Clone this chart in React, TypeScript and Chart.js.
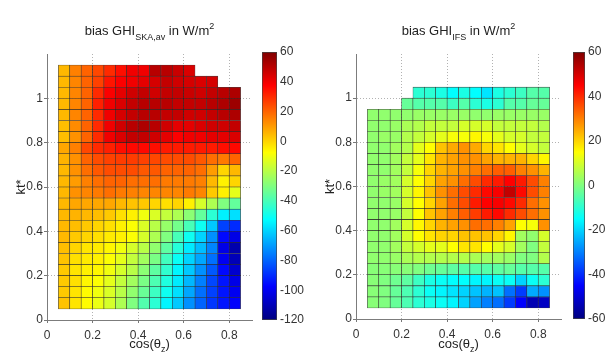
import React, { useEffect, useRef } from "react";
import { Chart, registerables } from "chart.js";

Chart.register(...registerables);

// ---- data ----
// cos(theta_z) bin edges (16 bins)
const cosBins = [0.05, 0.1, 0.15, 0.2, 0.25, 0.3, 0.35, 0.4, 0.45, 0.5, 0.55, 0.6, 0.65, 0.7, 0.75, 0.8, 0.85];
// kt* bin edges (22 bins)
const ktBins = [0.05, 0.1, 0.15, 0.2, 0.25, 0.3, 0.35, 0.4, 0.45, 0.5, 0.55, 0.6, 0.65, 0.7, 0.75, 0.8, 0.85, 0.9, 0.95, 1.0, 1.05, 1.1, 1.15];

const xTicks = [0, 0.2, 0.4, 0.6, 0.8];
const yTicks = [0, 0.2, 0.4, 0.6, 0.8, 1];

// bias GHI SKA,av in W/m2 — rows from kt 0.05 (bottom) upward, columns cos 0.05..0.85
const biasSKA: (number | null)[][] = [
  [3, -3, -7, -11, -15, -22, -30, -38, -45, -54, -62, -72, -80, -88, -94, -98],
  [2, -3, -7, -10, -14, -20, -27, -34, -42, -50, -58, -68, -78, -86, -94, -100],
  [2, -2, -6, -8, -12, -18, -24, -31, -39, -47, -56, -65, -75, -85, -94, -102],
  [2, -3, -5, -6, -10, -15, -20, -28, -36, -44, -54, -62, -72, -82, -96, -106],
  [3, -2, -4, -5, -8, -12, -18, -24, -31, -41, -51, -60, -68, -78, -100, -110],
  [4, 0, -3, -4, -6, -10, -15, -20, -27, -36, -46, -56, -64, -74, -102, -112],
  [5, 2, 0, -2, -4, -5, -8, -15, -22, -30, -40, -50, -60, -72, -96, -102],
  [5, 4, 2, 0, -2, -5, -8, -14, -20, -26, -32, -40, -50, -62, -86, -90],
  [5, 6, 5, 4, 2, -2, -5, -10, -14, -18, -22, -28, -35, -45, -55, -58],
  [5, 8, 8, 8, 8, 5, 3, 2, 0, -2, 0, -5, -15, -22, -30, -35],
  [5, 12, 14, 16, 18, 16, 15, 14, 14, 14, 14, 16, 14, 2, -5, -12],
  [5, 10, 15, 18, 20, 20, 18, 18, 18, 16, 16, 16, 15, 5, -5, 0],
  [5, 12, 18, 22, 24, 24, 24, 22, 22, 20, 20, 20, 18, 10, 0, 5],
  [6, 12, 20, 24, 26, 27, 27, 26, 25, 24, 24, 24, 22, 18, 16, 20],
  [8, 15, 25, 30, 32, 35, 36, 36, 35, 33, 33, 33, 33, 33, 35, 36],
  [4, 12, 20, 30, 40, 44, 48, 48, 46, 42, 38, 40, 40, 42, 42, 44],
  [4, 13, 20, 30, 40, 46, 50, 52, 50, 46, 42, 42, 44, 46, 46, 48],
  [5, 14, 20, 30, 40, 45, 48, 50, 50, 48, 48, 46, 46, 48, 50, 52],
  [5, 14, 20, 32, 40, 44, 48, 50, 50, 50, 48, 48, 48, 50, 52, 55],
  [5, 14, 20, 30, 38, 42, 46, 48, 46, 48, 48, 47, 46, 48, 50, 52],
  [5, 14, 20, 26, 34, 38, 40, 42, 45, 48, 46, 45, 44, 45, null, null],
  [5, 15, 20, 25, 30, 35, 40, 40, 50, 50, 47, 44, null, null, null, null],
];

// bias GHI IFS in W/m2 — rows from kt 0.05 (bottom) upward
const biasIFS: (number | null)[][] = [
  [1, 0, -3, -6, -10, -12, -14, -16, -20, -26, -30, -32, -38, -45, -54, -52],
  [1, 0, -3, -6, -10, -14, -16, -18, -20, -22, -24, -22, -32, -38, -25, -28],
  [1, 0, -2, -4, -8, -12, -14, -15, -15, -16, -16, -14, -14, -20, -14, -10],
  [1, 1, 1, 1, 0, -2, -3, -4, -5, -5, -5, -4, -3, -5, -5, -5],
  [2, 2, 3, 5, 6, 6, 6, 6, 6, 5, 4, 4, 3, 0, 0, 6],
  [2, 2, 4, 8, 10, 12, 12, 15, 18, 18, 15, 12, 10, 4, 0, 8],
  [2, 2, 4, 10, 15, 18, 20, 20, 22, 22, 22, 20, 16, 4, 2, 10],
  [2, 2, 4, 10, 16, 20, 24, 26, 28, 32, 32, 30, 26, 15, 14, 28],
  [2, 2, 3, 8, 15, 22, 26, 30, 34, 38, 42, 44, 40, 36, 32, 28],
  [2, 2, 3, 10, 15, 20, 26, 32, 36, 42, 45, 46, 44, 40, 32, 28],
  [2, 3, 4, 10, 16, 22, 28, 32, 36, 40, 44, 46, 52, 44, 36, 30],
  [2, 3, 4, 10, 15, 20, 26, 28, 32, 36, 40, 42, 45, 42, 36, 30],
  [2, 2, 4, 8, 14, 20, 24, 26, 28, 30, 32, 34, 34, 30, 28, 24],
  [2, 2, 4, 8, 12, 18, 24, 26, 28, 28, 26, 24, 24, 24, 20, 16],
  [2, 2, 4, 6, 12, 15, 22, 25, 28, 25, 20, 18, 15, 12, 10, 8],
  [2, 3, 3, 6, 8, 10, 12, 14, 14, 16, 14, 12, 10, 10, 8, 8],
  [2, 2, 3, 5, 6, 8, 8, 8, 10, 10, 10, 8, 8, 8, 8, 6],
  [2, 2, 2, 2, 3, 3, 3, 3, 3, 2, 2, 3, 3, 3, 3, 3],
  [null, null, null, -3, -5, -5, -5, -8, -5, -10, -12, -10, -5, -5, -3, -3],
  [null, null, null, null, -10, -10, -12, -15, -12, -15, -18, -12, -10, -8, -5, -5],
];

const rangeSKA = [-120, 60];
const rangeIFS = [-60, 60];
const cbTicksSKA = [-120, -100, -80, -60, -40, -20, 0, 20, 40, 60];
const cbTicksIFS = [-60, -40, -20, 0, 20, 40, 60];

// ---- helpers ----
const TICK_FONT = { family: "'Liberation Sans Narrow', 'Liberation Sans', Arial, sans-serif", size: 12 };
const TEXT_FAMILY = "'Liberation Sans', Arial, Helvetica, sans-serif";

function jet(t: number): string {
  const c = (v: number) => Math.round(255 * Math.max(0, Math.min(1, v)));
  const r = c(Math.min(4 * t - 1.5, -4 * t + 4.5));
  const g = c(Math.min(4 * t - 0.5, -4 * t + 3.5));
  const b = c(Math.min(4 * t + 0.5, -4 * t + 2.5));
  return `rgb(${r},${g},${b})`;
}

function makeHeat(canvas: HTMLCanvasElement, values: (number | null)[][], range: number[], pad: any) {
  const [lo, hi] = range;
  const datasets = values.map((row, i) => {
    const pts: any[] = [];
    const cols: string[] = [];
    row.forEach((v, j) => {
      if (v === null) return;
      pts.push({ x: (cosBins[j] + cosBins[j + 1]) / 2, y: [ktBins[i], ktBins[i + 1]] });
      cols.push(jet((v - lo) / (hi - lo)));
    });
    return {
      data: pts,
      backgroundColor: cols,
      borderColor: "rgba(30,30,30,0.85)",
      borderWidth: 0.6,
      borderSkipped: false,
      grouped: false,
      barPercentage: 1,
      categoryPercentage: 1,
    };
  });
  return new Chart(canvas, {
    type: "bar",
    data: { datasets } as any,
    options: {
      animation: false,
      responsive: false,
      events: [],
      layout: { padding: pad },
      plugins: { legend: { display: false }, tooltip: { enabled: false }, title: { display: false } },
      scales: {
        x: {
          type: "linear",
          min: 0,
          max: 0.9,
          offset: false,
          afterBuildTicks: (s: any) => {
            s.ticks = xTicks.map((v) => ({ value: v }));
          },
          afterFit: (s: any) => {
            s.height = 24;
          },
          grid: { offset: false, color: "rgba(0,0,0,0.3)", tickColor: "#777", tickLength: 3, drawTicks: true },
          border: { display: true, color: "#7c7c7c", width: 1, dash: [1, 2] },
          ticks: { padding: 5, color: "#333", font: TICK_FONT, maxRotation: 0, callback: (v: any) => String(v) },
        },
        y: {
          type: "linear",
          min: 0,
          max: 1.2,
          afterBuildTicks: (s: any) => {
            s.ticks = yTicks.map((v) => ({ value: v }));
          },
          afterFit: (s: any) => {
            s.width = 40;
          },
          grid: { color: "rgba(0,0,0,0.3)", tickColor: "#777", tickLength: 3, drawTicks: true },
          border: { display: true, color: "#7c7c7c", width: 1, dash: [1, 2] },
          ticks: { padding: 1, color: "#333", font: TICK_FONT, callback: (v: any) => String(v) },
          title: {
            display: true,
            text: "kt*",
            color: "#222",
            font: { family: TEXT_FAMILY, size: 13 },
            padding: { top: 7, bottom: 0 },
          },
        },
      },
    } as any,
  });
}

function makeColorbar(canvas: HTMLCanvasElement, range: number[], ticks: number[], pad: any, axisWidth: number) {
  const [lo, hi] = range;
  return new Chart(canvas, {
    type: "bar",
    data: {
      labels: [""],
      datasets: [
        {
          data: [[lo, hi]],
          backgroundColor: (c: any) => {
            const a = c.chart.chartArea;
            if (!a) return "transparent";
            const g = c.chart.ctx.createLinearGradient(0, a.bottom, 0, a.top);
            for (let i = 0; i <= 64; i++) g.addColorStop(i / 64, jet(i / 64));
            return g;
          },
          borderColor: "#444",
          borderWidth: 1,
          borderSkipped: false,
          barPercentage: 1,
          categoryPercentage: 1,
        },
      ],
    } as any,
    options: {
      animation: false,
      responsive: false,
      events: [],
      layout: { padding: pad },
      plugins: { legend: { display: false }, tooltip: { enabled: false } },
      scales: {
        x: { display: false },
        y: {
          position: "right",
          min: lo,
          max: hi,
          afterBuildTicks: (s: any) => {
            s.ticks = ticks.map((v) => ({ value: v }));
          },
          afterFit: (s: any) => {
            s.width = axisWidth;
          },
          grid: { display: false, drawTicks: false },
          border: { display: false },
          ticks: { padding: 3, color: "#333", font: TICK_FONT, callback: (v: any) => String(v) },
        },
      },
    } as any,
  });
}

const abs = (left: number, top: number, w: number, h: number): React.CSSProperties => ({
  position: "absolute",
  left,
  top,
  width: w,
  height: h,
  display: "block",
});

function Title({ cx, main, sub }: { cx: number; main: string; sub: string }) {
  return (
    <div
      style={{
        position: "absolute",
        left: cx - 120,
        width: 240,
        top: 23,
        textAlign: "center",
        fontFamily: TEXT_FAMILY,
        fontSize: 13,
        lineHeight: "16px",
        color: "#222",
        whiteSpace: "nowrap",
      }}
    >
      {main}
      <sub style={{ fontSize: 9, verticalAlign: "baseline", position: "relative", top: 5, lineHeight: 0 }}>{sub}</sub>
      {" in W/m"}
      <sup style={{ fontSize: 9, verticalAlign: "baseline", position: "relative", top: -6, lineHeight: 0 }}>2</sup>
    </div>
  );
}

function XLabel({ cx }: { cx: number }) {
  return (
    <div
      style={{
        position: "absolute",
        left: cx - 60,
        width: 120,
        top: 336,
        textAlign: "center",
        fontFamily: TEXT_FAMILY,
        fontSize: 13,
        lineHeight: "16px",
        color: "#222",
        whiteSpace: "nowrap",
      }}
    >
      cos(θ
      <sub style={{ fontSize: 9, verticalAlign: "baseline", position: "relative", top: 4, lineHeight: 0 }}>z</sub>)
    </div>
  );
}

export default function App() {
  const r1 = useRef<HTMLCanvasElement>(null);
  const r2 = useRef<HTMLCanvasElement>(null);
  const r3 = useRef<HTMLCanvasElement>(null);
  const r4 = useRef<HTMLCanvasElement>(null);

  useEffect(() => {
    const charts = [
      makeHeat(r1.current!, biasSKA, rangeSKA, { left: 7, right: 54, top: 54, bottom: 14 }),
      makeColorbar(r2.current!, rangeSKA, cbTicksSKA, { left: 7, right: 0, top: 52, bottom: 38 }, 29),
      makeHeat(r3.current!, biasIFS, rangeIFS, { left: 10, right: 51, top: 54, bottom: 15 }),
      makeColorbar(r4.current!, rangeIFS, cbTicksIFS, { left: 7, right: 0, top: 52, bottom: 39 }, 27),
    ];
    return () => charts.forEach((c) => c.destroy());
  }, []);

  return (
    <div style={{ position: "fixed", left: 0, top: 0, width: 612, height: 358, background: "#fff", overflow: "hidden" }}>
      <canvas ref={r1} width={306} height={358} style={abs(0, 0, 306, 358)} />
      <canvas ref={r2} width={51} height={358} style={abs(255, 0, 51, 358)} />
      <canvas ref={r3} width={306} height={358} style={abs(306, 0, 306, 358)} />
      <canvas ref={r4} width={46} height={358} style={abs(566, 0, 46, 358)} />
      <Title cx={149.5} main="bias GHI" sub="SKA,av" />
      <Title cx={458.5} main="bias GHI" sub="IFS" />
      <XLabel cx={149.5} />
      <XLabel cx={458.5} />
    </div>
  );
}
